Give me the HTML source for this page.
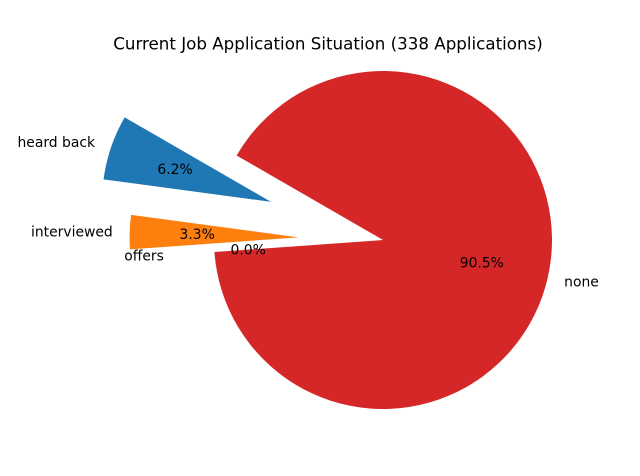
<!DOCTYPE html>
<html><head><meta charset="utf-8"><style>
html,body{margin:0;padding:0;background:#fff;}
svg{display:block;font-family:"DejaVu Sans","Liberation Sans",sans-serif;}
</style></head><body>
<svg id="chart" width="640" height="476" viewBox="0 0 640 476">
<rect width="640" height="476" fill="#fff"/>
<text x="328" y="49.5" font-size="16.7" text-anchor="middle" fill="#000">Current Job Application Situation (338 Applications)</text>
<g id="wedges"></g>
<g id="labels"></g>
</svg>
<script>
const categories = ["heard back", "interviewed", "offers", "none"];
const counts = [21, 11, 0, 306];
const explodes = [0.7, 0.5, 0.2, 0];
const colors = ["#1f77b4", "#ff7f0e", "#2ca02c", "#d62728"];
const startAngle = 150;

const cx = 383, cy = 240, R = 169;
const NS = "http://www.w3.org/2000/svg";
const wg = document.getElementById('wedges');
const lg = document.getElementById('labels');
const total = counts.reduce((a, b) => a + b, 0);
function pt(x0, y0, r, deg) {
  const a = deg * Math.PI / 180;
  return [x0 + r * Math.cos(a), y0 - r * Math.sin(a)];
}
let ang = startAngle;
counts.forEach((v, i) => {
  const span = v / total * 360;
  const a0 = ang, a1 = ang + span, mid = (a0 + a1) / 2;
  const [ox, oy] = pt(cx, cy, explodes[i] * R, mid);
  if (span > 0) {
    const p0 = pt(ox, oy, R, a0), p1 = pt(ox, oy, R, a1);
    const large = span > 180 ? 1 : 0;
    const path = document.createElementNS(NS, 'path');
    path.setAttribute('d', `M${ox},${oy} L${p0[0]},${p0[1]} A${R},${R} 0 ${large} 0 ${p1[0]},${p1[1]} Z`);
    path.setAttribute('fill', colors[i]);
    
    
    wg.appendChild(path);
  }
  const [lx, ly] = pt(ox, oy, 1.1 * R, mid);
  const t = document.createElementNS(NS, 'text');
  t.setAttribute('x', lx);
  t.setAttribute('y', ly + 5);
  t.setAttribute('font-size', '13.9');
  t.setAttribute('text-anchor', lx < ox ? 'end' : 'start');
  t.textContent = categories[i];
  
  
  lg.appendChild(t);
  const [px, py] = pt(ox, oy, 0.6 * R, mid);
  const p = document.createElementNS(NS, 'text');
  p.setAttribute('x', px);
  p.setAttribute('y', py + 5);
  p.setAttribute('font-size', '13.9');
  p.setAttribute('text-anchor', 'middle');
  p.textContent = (v / total * 100).toFixed(1) + '%';
  
  
  lg.appendChild(p);
  ang = a1;
});
</script>
</body></html>
